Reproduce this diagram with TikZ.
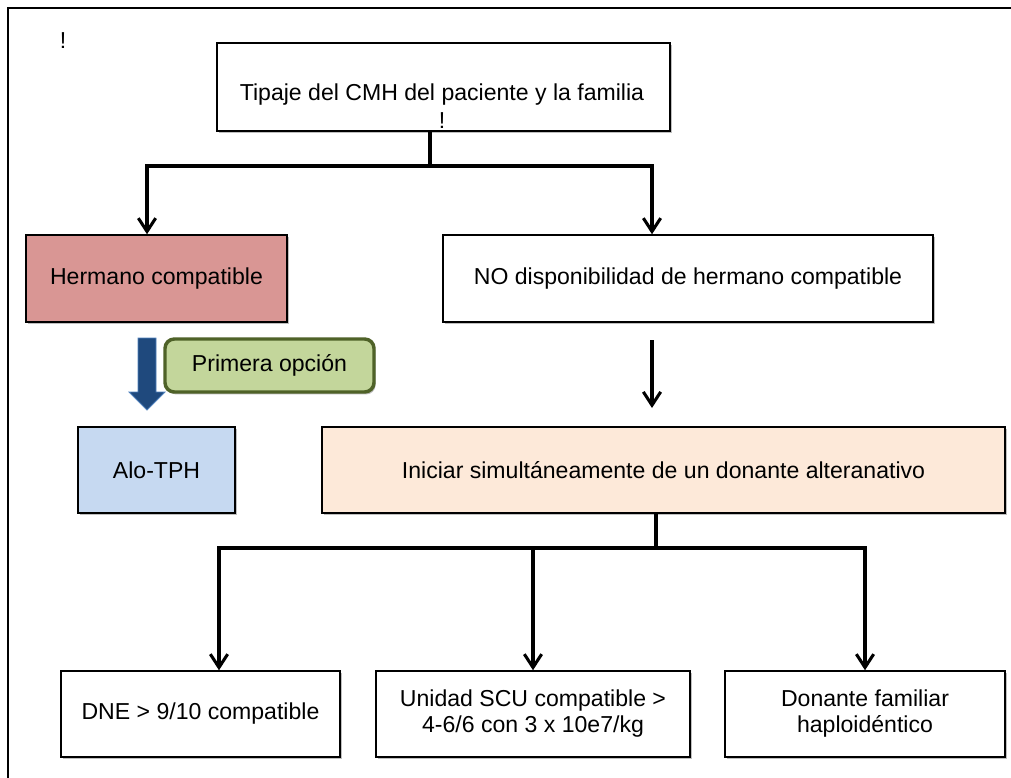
\documentclass[tikz,border=0pt]{standalone}
\usepackage{fontspec}
\setmainfont{Liberation Sans}
\usetikzlibrary{arrows.meta,shadows}
\definecolor{hermfill}{HTML}{D99694}
\definecolor{alofill}{HTML}{C6D9F1}
\definecolor{inifill}{HTML}{FDE9D9}
\definecolor{primfill}{HTML}{C3D69B}
\definecolor{primdraw}{HTML}{4F6228}
\definecolor{bluefill}{HTML}{1F497D}
\definecolor{bluedraw}{HTML}{4F81BD}
\tikzset{
  boxstyle/.style={draw=black, line width=1.1pt, fill=white, align=center, inner sep=0pt,
    font=\fontsize{17.3}{19.5}\selectfont,
    drop shadow={shadow xshift=1.2pt, shadow yshift=-1.8pt, opacity=0.25, fill=black}},
  conn/.style={line width=2.3pt, black},
  arr/.style={conn, -{Straight Barb[length=10pt,width=13pt,line width=2.3pt]}},
  plaintext/.style={font=\fontsize{17.3}{20.5}\selectfont, inner sep=0pt}
}
\begin{document}
\begin{tikzpicture}[x=0.75pt,y=-0.75pt]
\useasboundingbox (0,0) rectangle (1011,778);
\fill[white] (0,0) rectangle (1011,778);
% outer frame
\draw[line width=1.9pt, black] (8,778) -- (8,8) -- (1011,8);
\node[plaintext] (bang) at (63,41) {!};
% nodes
\node[boxstyle, minimum width={453*0.75pt}, minimum height={88*0.75pt}] (top) at (443.5,87) {};
\node[plaintext, align=center, anchor=north] (toptext) at (442,84)
  {Tipaje del CMH del paciente y la familia\\!};
\node[boxstyle, fill=hermfill, minimum width={261*0.75pt}, minimum height={87*0.75pt}] (herm) at (156.5,278.5)
  {Hermano compatible};
\node[boxstyle, minimum width={490*0.75pt}, minimum height={87*0.75pt}] (no) at (688,278.5)
  {NO disponibilidad de hermano compatible};
\node[boxstyle, fill=alofill, minimum width={157*0.75pt}, minimum height={86*0.75pt}] (alo) at (156.5,470)
  {Alo-TPH};
\node[boxstyle, fill=inifill, minimum width={683*0.75pt}, minimum height={86*0.75pt}] (ini) at (663.5,470)
  {Iniciar simultáneamente de un donante alteranativo};
\node[boxstyle, minimum width={279*0.75pt}, minimum height={86*0.75pt}] (dne) at (200.5,714)
  {DNE > 9/10 compatible};
\node[boxstyle, minimum width={314*0.75pt}, minimum height={86*0.75pt}] (scu) at (533,714)
  {Unidad SCU compatible >\\4-6/6 con 3 x 10e7/kg};
\node[boxstyle, minimum width={280*0.75pt}, minimum height={86*0.75pt}] (hap) at (865,714)
  {Donante familiar\\haploidéntico};
% blue block arrow
\draw[fill=bluefill, draw=bluedraw, line width=0.6pt]
  (138,338) -- (156,338) -- (156,392) -- (165,392) -- (147,410) -- (129,392) -- (138,392) -- cycle;
\node[boxstyle, fill=primfill, draw=primdraw, line width=2.6pt, rounded corners=7pt,
  minimum width={209*0.75pt}, minimum height={53*0.75pt}] (prim) at (269.5,365.5) {Primera opción};
% connectors top
\coordinate (j1) at (430,166);
\coordinate (hL) at (147,166);
\coordinate (hR) at (652,166);
\draw[conn] (top.south -| j1) -- (j1);
\draw[conn, line cap=rect] (hL) -- (hR);
\draw[arr] (hL) -- (hL |- herm.north);
\draw[arr] (hR) -- (hR |- no.north);
% free arrow
\coordinate (fa1) at (652,340);
\coordinate (fa2) at (652,408);
\draw[arr] (fa1) -- (fa2);
% connectors bottom
\coordinate (j2) at (656,548);
\coordinate (bL) at (219,548);
\coordinate (bM) at (533,548);
\coordinate (bR) at (865,548);
\draw[conn] (ini.south -| j2) -- (j2);
\draw[conn, line cap=rect] (bL) -- (bR);
\draw[arr] (bL) -- (bL |- dne.north);
\draw[arr] (bM) -- (scu.north);
\draw[arr] (bR) -- (hap.north);
\end{tikzpicture}
\end{document}
